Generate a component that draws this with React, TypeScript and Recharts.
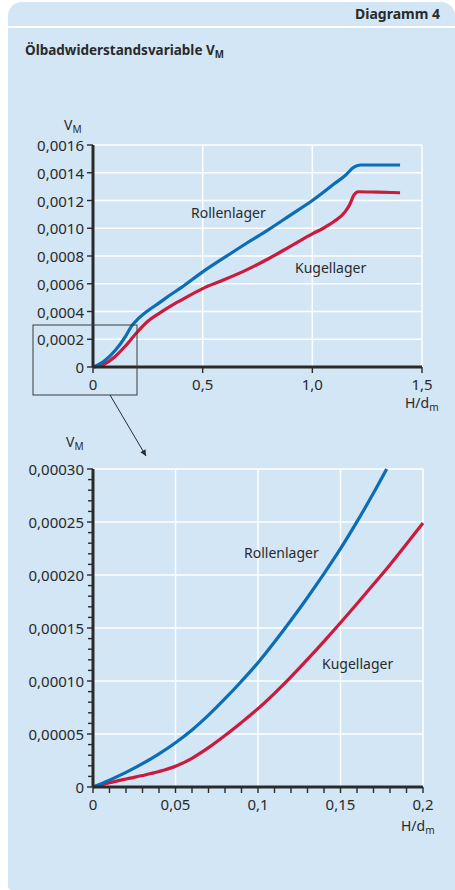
import React from 'react';
import { LineChart, Line, XAxis, YAxis, CartesianGrid } from 'recharts';

const FONT = '"Noto Sans", sans-serif';
const INK = '#2a2a2a';
const BLUE = '#0a6db5';
const RED = '#cc1a3d';
const BG = '#d2e6f5';

// Übersicht: H/dm 0 ... 1,5
const rolleX = [0, 0.05, 0.1, 0.15, 0.178, 0.2, 0.25, 0.3, 0.35, 0.4, 0.5, 0.6, 0.7, 0.8, 0.9, 1.0, 1.1, 1.15, 1.19, 1.22, 1.3, 1.4];
const rolleV = [0, 0.000042, 0.000117, 0.000225, 0.0003, 0.000338, 0.000405, 0.00046, 0.000517, 0.00057, 0.000686, 0.00079, 0.000892, 0.00099, 0.001095, 0.0012, 0.00132, 0.00138, 0.00144, 0.001456, 0.001456, 0.001456];
const kugelX = [0, 0.05, 0.1, 0.15, 0.2, 0.25, 0.3, 0.35, 0.4, 0.5, 0.6, 0.7, 0.8, 0.9, 1.0, 1.05, 1.1, 1.15, 1.17, 1.19, 1.21, 1.3, 1.4];
const kugelV = [0, 0.00002, 0.000074, 0.000155, 0.000249, 0.00033, 0.000385, 0.000435, 0.00048, 0.000565, 0.00063, 0.0007, 0.00078, 0.00087, 0.00096, 0.001, 0.00105, 0.00112, 0.00117, 0.00124, 0.001263, 0.00126, 0.001256];

// Ausschnitt: H/dm 0 ... 0,2
const rolleZoomX = [0, 0.01, 0.02, 0.03, 0.04, 0.05, 0.06, 0.07, 0.08, 0.09, 0.1, 0.11, 0.12, 0.13, 0.14, 0.15, 0.16, 0.17, 0.178];
const rolleZoomV = [0, 0.0000065, 0.0000138, 0.000022, 0.0000313, 0.0000418, 0.0000538, 0.0000678, 0.0000833, 0.0000998, 0.0001173, 0.0001368, 0.0001573, 0.0001788, 0.0002013, 0.0002248, 0.0002503, 0.0002773, 0.0003];
const kugelZoomX = [0, 0.01, 0.02, 0.03, 0.04, 0.05, 0.06, 0.07, 0.08, 0.09, 0.1, 0.11, 0.12, 0.13, 0.14, 0.15, 0.16, 0.17, 0.18, 0.19, 0.2];
const kugelZoomV = [0, 0.000004, 0.0000075, 0.0000108, 0.0000146, 0.0000196, 0.0000271, 0.0000371, 0.0000486, 0.0000609, 0.0000739, 0.0000884, 0.0001039, 0.0001204, 0.0001374, 0.0001549, 0.0001729, 0.0001912, 0.0002097, 0.0002292, 0.000249];

const topXTicks = [0, 0.5, 1.0, 1.5];
const topYTicks = [0, 0.0002, 0.0004, 0.0006, 0.0008, 0.001, 0.0012, 0.0014, 0.0016];
const zoomXTicks = [0, 0.05, 0.1, 0.15, 0.2];
const zoomXAll = [0, 0.01, 0.02, 0.03, 0.04, 0.05, 0.06, 0.07, 0.08, 0.09, 0.1, 0.11, 0.12, 0.13, 0.14, 0.15, 0.16, 0.17, 0.18, 0.19, 0.2];
const zoomYTicks = [0, 0.00005, 0.0001, 0.00015, 0.0002, 0.00025, 0.0003];
const zoomYAll = [0, 0.00001, 0.00002, 0.00003, 0.00004, 0.00005, 0.00006, 0.00007, 0.00008, 0.00009, 0.0001,
  0.00011, 0.00012, 0.00013, 0.00014, 0.00015, 0.00016, 0.00017, 0.00018, 0.00019, 0.0002,
  0.00021, 0.00022, 0.00023, 0.00024, 0.00025, 0.00026, 0.00027, 0.00028, 0.00029, 0.0003];

const rows = (xs: number[], vs: number[]) => xs.map((x, i) => ({ x, v: vs[i] }));

const fmt = (v: number, digits: number) => (v === 0 ? '0' : v.toFixed(digits).replace('.', ','));
const isMajor = (list: number[], v: number) => list.some((m) => Math.abs(m - v) < 1e-12);

function YTick(props: any) {
  const { x, y, payload, majors, digits } = props;
  const major = isMajor(majors, payload.value);
  return (
    <g>
      <line x1={x - (major ? 6 : 5)} x2={x} y1={y} y2={y} stroke={INK} strokeWidth={1.4} />
      {major && (
        <text x={x - 9} y={y} textAnchor="end" dominantBaseline="central" fontFamily={FONT} fontSize={15} fill={INK}>
          {fmt(payload.value, digits)}
        </text>
      )}
    </g>
  );
}

function XTick(props: any) {
  const { x, y, payload, majors, label } = props;
  const major = isMajor(majors, payload.value);
  return (
    <g>
      <line x1={x} x2={x} y1={y} y2={y + 6} stroke={INK} strokeWidth={1.4} />
      {major && (
        <text x={x} y={y + 17} textAnchor="middle" dominantBaseline="central" fontFamily={FONT} fontSize={15} fill={INK}>
          {label(payload.value)}
        </text>
      )}
    </g>
  );
}

function Txt({ left, top, children, bold, size = 14 }: any) {
  return (
    <div style={{
      position: 'absolute', left, top, fontFamily: FONT, fontSize: size, lineHeight: '16px',
      fontWeight: bold ? 700 : 400, color: INK, whiteSpace: 'nowrap',
    }}>
      {children}
    </div>
  );
}

const Sub = ({ children }: any) => (
  <span style={{ fontSize: '0.72em', position: 'relative', top: 3 }}>{children}</span>
);

export default function App() {
  return (
    <div style={{ position: 'absolute', left: 0, top: 0, width: 455, height: 890, background: '#fff', overflow: 'hidden' }}>
      <div style={{ position: 'absolute', left: 8, top: 2, width: 447, height: 888, background: BG, borderRadius: '14px 14px 0 4px' }} />
      <div style={{ position: 'absolute', left: 8, top: 26, width: 447, height: 2, background: '#fff' }} />

      <Txt left={355} top={6} bold>Diagramm 4</Txt>
      <Txt left={25} top={42} bold size={13.5}>Ölbadwiderstandsvariable V<Sub>M</Sub></Txt>

      {/* Übersicht */}
      <div style={{ position: 'absolute', left: 0, top: 100 }}>
        <LineChart width={455} height={320} margin={{ top: 45, right: 33, bottom: 23, left: 0 }}>
          <CartesianGrid stroke="#fff" strokeWidth={1.5} horizontalValues={topYTicks} verticalValues={topXTicks} />
          <XAxis dataKey="x" type="number" domain={[0, 1.5]} ticks={topXTicks} height={30}
            axisLine={{ stroke: INK, strokeWidth: 3 }} tickLine={false} tickSize={0} tickMargin={0} interval={0}
            tick={(p: any) => <XTick {...p} majors={topXTicks} label={(v: number) => (v === 0 ? '0' : v.toFixed(1).replace('.', ','))} />} />
          <YAxis type="number" domain={[0, 0.0016]} ticks={topYTicks} width={93}
            axisLine={{ stroke: INK, strokeWidth: 3 }} tickLine={false} tickSize={0} tickMargin={0} interval={0}
            tick={(p: any) => <YTick {...p} majors={topYTicks} digits={4} />} />
          <Line data={rows(kugelX, kugelV)} dataKey="v" type="monotone" stroke={RED} strokeWidth={3.2} dot={false} isAnimationActive={false} />
          <Line data={rows(rolleX, rolleV)} dataKey="v" type="monotone" stroke={BLUE} strokeWidth={3.2} dot={false} isAnimationActive={false} />
        </LineChart>
      </div>
      <Txt left={64} top={117}>V<Sub>M</Sub></Txt>
      <Txt left={405} top={395}>H/d<Sub>m</Sub></Txt>
      <Txt left={191} top={205}>Rollenlager</Txt>
      <Txt left={295} top={260}>Kugellager</Txt>

      {/* Ausschnitt */}
      <div style={{ position: 'absolute', left: 0, top: 440 }}>
        <LineChart width={455} height={400} margin={{ top: 29, right: 32, bottom: 23, left: 0 }}>
          <CartesianGrid stroke="#fff" strokeWidth={1.5} horizontalValues={zoomYTicks} verticalValues={zoomXTicks} />
          <XAxis dataKey="x" type="number" domain={[0, 0.2]} ticks={zoomXAll} height={30}
            axisLine={{ stroke: INK, strokeWidth: 3 }} tickLine={false} tickSize={0} tickMargin={0} interval={0}
            tick={(p: any) => <XTick {...p} majors={zoomXTicks} label={(v: number) => String(v).replace('.', ',')} />} />
          <YAxis type="number" domain={[0, 0.0003]} ticks={zoomYAll} width={93}
            axisLine={{ stroke: INK, strokeWidth: 3 }} tickLine={false} tickSize={0} tickMargin={0} interval={0}
            tick={(p: any) => <YTick {...p} majors={zoomYTicks} digits={5} />} />
          <Line data={rows(kugelZoomX, kugelZoomV)} dataKey="v" type="monotone" stroke={RED} strokeWidth={3.2} dot={false} isAnimationActive={false} />
          <Line data={rows(rolleZoomX, rolleZoomV)} dataKey="v" type="monotone" stroke={BLUE} strokeWidth={3.2} dot={false} isAnimationActive={false} />
        </LineChart>
      </div>
      <Txt left={66} top={434}>V<Sub>M</Sub></Txt>
      <Txt left={401} top={818}>H/d<Sub>m</Sub></Txt>
      <Txt left={244} top={545}>Rollenlager</Txt>
      <Txt left={322} top={656}>Kugellager</Txt>

      {/* Ausschnittsrahmen mit Pfeil */}
      <svg width={455} height={890} style={{ position: 'absolute', left: 0, top: 0, pointerEvents: 'none' }}>
        <defs>
          <marker id="tip" viewBox="0 0 10 10" refX="10" refY="5" markerWidth="12" markerHeight="6" orient="auto" markerUnits="userSpaceOnUse">
            <path d="M0,0 L10,5 L0,10 z" fill={INK} />
          </marker>
        </defs>
        <rect x={33} y={325} width={104} height={70} fill="none" stroke="#3a3a3a" strokeWidth={1} />
        <line x1={110} y1={395} x2={146} y2={456} stroke={INK} strokeWidth={1} markerEnd="url(#tip)" />
      </svg>
    </div>
  );
}
